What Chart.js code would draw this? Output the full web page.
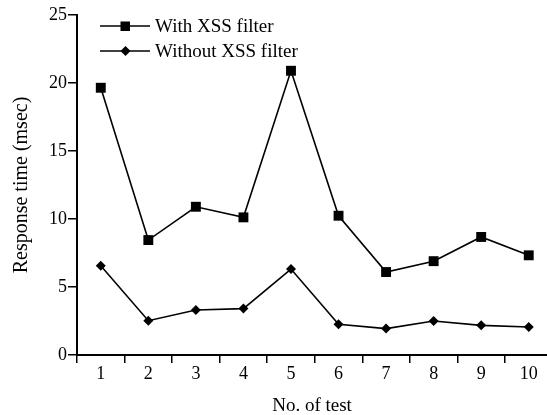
<!DOCTYPE html>
<html lang="en">
<head>
    <meta charset="UTF-8">
    <title>Response time with and without XSS filter</title>
    <script src="https://cdn.jsdelivr.net/npm/chart.js@4.4.1/dist/chart.umd.min.js"></script>
    <style>
        body { margin: 0; background: #fff; }
        .chart-box { width: 547px; height: 415px; }
    </style>
</head>
<body>
    <div class="chart-box">
        <canvas id="xssChart"></canvas>
    </div>

    <script>
        // Data
        const tests = [1, 2, 3, 4, 5, 6, 7, 8, 9, 10];
        const withFilter = [19.65, 8.45, 10.9, 10.12, 20.9, 10.24, 6.1, 6.9, 8.68, 7.33];
        const withoutFilter = [6.57, 2.52, 3.31, 3.41, 6.32, 2.26, 1.94, 2.5, 2.18, 2.06];
        const seriesNames = ['With XSS filter', 'Without XSS filter'];
        const yTicks = [0, 5, 10, 15, 20, 25];

        const FONT = 'Liberation Serif, Times New Roman, serif';

        function toPoints(values) {
            return tests.map((t, i) => ({ x: t, y: values[i] }));
        }

        // Legend drawn inside the plot, line + marker like the original
        const insideLegend = {
            id: 'insideLegend',
            afterDraw(chart) {
                const ctx = chart.ctx;
                const rows = [
                    { y: 26, style: 'rect' },
                    { y: 51, style: 'diamond' }
                ];
                ctx.save();
                ctx.strokeStyle = '#000';
                ctx.fillStyle = '#000';
                ctx.lineWidth = 1.6;
                ctx.font = '19px ' + FONT;
                ctx.textBaseline = 'middle';
                rows.forEach((row, i) => {
                    ctx.beginPath();
                    ctx.moveTo(100, row.y);
                    ctx.lineTo(150, row.y);
                    ctx.stroke();
                    if (row.style === 'rect') {
                        ctx.fillRect(120.5, row.y - 4.5, 9.5, 9.5);
                    } else {
                        ctx.beginPath();
                        ctx.moveTo(125.5 - 5, row.y);
                        ctx.lineTo(125.5, row.y - 5);
                        ctx.lineTo(125.5 + 5, row.y);
                        ctx.lineTo(125.5, row.y + 5);
                        ctx.closePath();
                        ctx.fill();
                    }
                    ctx.fillText(seriesNames[i], 155, row.y + 1);
                });
                ctx.restore();
            }
        };

        const ctx = document.getElementById('xssChart').getContext('2d');
        new Chart(ctx, {
            type: 'line',
            data: {
                datasets: [{
                    label: seriesNames[0],
                    data: toPoints(withFilter),
                    borderColor: '#000',
                    borderWidth: 1.6,
                    pointStyle: 'rect',
                    pointRadius: 7,
                    pointBackgroundColor: '#000',
                    pointBorderWidth: 0,
                    clip: false
                }, {
                    label: seriesNames[1],
                    data: toPoints(withoutFilter),
                    borderColor: '#000',
                    borderWidth: 1.6,
                    pointStyle: 'rectRot',
                    pointRadius: 5,
                    pointBackgroundColor: '#000',
                    pointBorderWidth: 0,
                    clip: false
                }]
            },
            options: {
                responsive: true,
                maintainAspectRatio: false,
                animation: false,
                layout: {
                    autoPadding: false,
                    padding: { top: 15, left: 10, right: 0, bottom: 0 }
                },
                plugins: {
                    legend: { display: false },
                    tooltip: { enabled: false }
                },
                scales: {
                    // labels sit between tick marks; the plot is cut at the right edge
                    x: {
                        type: 'linear',
                        position: 'bottom',
                        min: 0.5,
                        max: 10.384,
                        afterBuildTicks(scale) {
                            const t = [];
                            tests.forEach(v => { t.push({ value: v - 0.5 }); t.push({ value: v }); });
                            scale.ticks = t;
                        },
                        afterFit(scale) {
                            scale.height = 60;
                            scale.paddingLeft = 0;
                            scale.paddingRight = 0;
                        },
                        border: { display: true, color: '#000', width: 2 },
                        grid: {
                            drawOnChartArea: false,
                            drawTicks: true,
                            tickLength: 8,
                            lineWidth: 1.5,
                            tickColor: c => (c.tick && Number.isInteger(c.tick.value)) ? 'rgba(0,0,0,0)' : '#000'
                        },
                        ticks: {
                            autoSkip: false,
                            maxRotation: 0,
                            padding: 0,
                            color: '#000',
                            font: { family: FONT, size: 18 },
                            callback: v => Number.isInteger(v) ? String(v) : ''
                        },
                        title: {
                            display: true,
                            text: 'No. of test',
                            color: '#000',
                            font: { family: FONT, size: 19 },
                            padding: { top: 0, bottom: -2 }
                        }
                    },
                    y: {
                        type: 'linear',
                        min: 0,
                        max: 25,
                        afterBuildTicks(scale) {
                            scale.ticks = yTicks.map(v => ({ value: v }));
                        },
                        afterFit(scale) { scale.width = 67; },
                        border: { display: true, color: '#000', width: 2 },
                        grid: {
                            drawOnChartArea: false,
                            drawTicks: true,
                            tickLength: 9,
                            lineWidth: 1.5,
                            tickColor: '#000'
                        },
                        ticks: {
                            padding: 1,
                            color: '#000',
                            font: { family: FONT, size: 18 }
                        },
                        title: {
                            display: true,
                            text: 'Response time (msec)',
                            color: '#000',
                            font: { family: FONT, size: 20 },
                            padding: { top: 0, bottom: 0 }
                        }
                    }
                }
            },
            plugins: [insideLegend]
        });
    </script>
</body>
</html>
